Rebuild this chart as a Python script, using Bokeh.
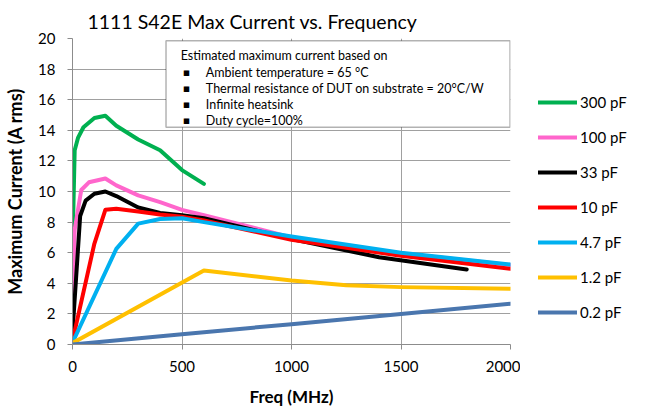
from bokeh.plotting import figure
from bokeh.layouts import row
from bokeh.models import Range1d, Legend, LegendItem, BoxAnnotation, Label, FixedTicker
from bokeh.embed import file_html
from bokeh.resources import INLINE

# ---- data ----
title_text = "1111 S42E Max Current vs. Frequency"
x_label = "Freq (MHz)"
y_label = "Maximum Current (A rms)"
x_ticks = [0, 500, 1000, 1500, 2000]
y_ticks = [0, 2, 4, 6, 8, 10, 12, 14, 16, 18, 20]

series_names = ["300 pF", "100 pF", "33 pF", "10 pF", "4.7 pF", "1.2 pF", "0.2 pF"]

f_300 = [1, 10, 25, 50, 100, 150, 200, 300, 400, 500, 600]
i_300 = [7.0, 12.7, 13.5, 14.2, 14.8, 14.95, 14.3, 13.4, 12.7, 11.4, 10.5]

f_100 = [1, 10, 40, 75, 150, 200, 300, 400, 500, 600, 1000, 1500, 2000]
i_100 = [3.3, 7.5, 10.1, 10.6, 10.85, 10.4, 9.75, 9.3, 8.8, 8.45, 7.0, 5.95, 5.2]

f_33 = [1, 35, 60, 100, 150, 200, 300, 400, 500, 600, 1000, 1400, 1800]
i_33 = [1.0, 8.4, 9.4, 9.85, 10.0, 9.7, 8.95, 8.6, 8.45, 8.25, 6.9, 5.7, 4.9]

f_10 = [1, 100, 150, 200, 300, 400, 500, 600, 1000, 1500, 2000]
i_10 = [0.3, 6.6, 8.8, 8.87, 8.7, 8.5, 8.35, 8.1, 6.85, 5.8, 4.95]

f_4p7 = [1, 200, 300, 400, 500, 600, 1000, 1500, 2000]
i_4p7 = [0.15, 6.25, 7.9, 8.2, 8.25, 8.0, 7.06, 6.0, 5.23]

f_1p2 = [1, 600, 1000, 1250, 1500, 2000]
i_1p2 = [0.1, 4.84, 4.18, 3.88, 3.75, 3.64]

f_0p2 = [0, 500, 1000, 1500, 2000]
i_0p2 = [0.0, 0.67, 1.33, 2.0, 2.66]

note_title = "Estimated maximum current based on"
note_items = [
    "Ambient temperature = 65 \u00b0C",
    "Thermal resistance of  DUT on substrate  = 20\u00b0C/W",
    "Infinite heatsink",
    "Duty cycle=100%",
]

# ---- styles ----
colors = ["#00B050", "#FF66CC", "#000000", "#FF0000", "#00B0F0", "#FFC000", "#4A76AE"]
FONT = "Lato"
MAIN_W, LEG_W, H = 520, 126, 409

p = figure(width=MAIN_W, height=H, output_backend="svg", toolbar_location=None,
           x_range=Range1d(0, 2000), y_range=Range1d(0, 20),
           min_border_left=72, min_border_right=10, min_border_top=38, min_border_bottom=65)

p.title.text = title_text
p.title.text_font = FONT
p.title.text_font_size = "19.5px"
p.title.text_font_style = "normal"
p.title.text_color = "#000000"
p.title.align = "left"
p.title.offset = 15
p.title.standoff = 12

p.outline_line_color = None
for g in (p.xgrid, p.ygrid):
    g.grid_line_color = "#A0A0A0"
    g.grid_line_width = 1

p.xaxis.ticker = FixedTicker(ticks=x_ticks)
p.yaxis.ticker = FixedTicker(ticks=y_ticks)
for ax in (p.xaxis, p.yaxis):
    ax.axis_line_color = "#8C8C8C"
    ax.major_tick_line_color = "#8C8C8C"
    ax.major_tick_in = 0
    ax.major_tick_out = 5
    ax.minor_tick_line_color = None
    ax.major_label_text_font = FONT
    ax.major_label_text_font_size = "15px"
    ax.major_label_text_color = "#000000"
    ax.axis_label_text_font = FONT
    ax.axis_label_text_font_style = "bold"
    ax.axis_label_text_color = "#000000"
p.xaxis.axis_label = x_label
p.yaxis.axis_label = y_label
p.xaxis.axis_label_text_font_size = "17px"
p.yaxis.axis_label_text_font_size = "18px"
p.xaxis.major_label_standoff = 11
p.yaxis.major_label_standoff = 12
p.xaxis.axis_label_standoff = 11
p.yaxis.axis_label_standoff = 9

xs = [f_300, f_100, f_33, f_10, f_4p7, f_1p2, f_0p2]
ys = [i_300, i_100, i_33, i_10, i_4p7, i_1p2, i_0p2]
for x, y, c in zip(xs, ys, colors):
    p.line(x, y, line_color=c, line_width=4, line_join="round", line_cap="round")

# ---- annotation box ----
box = BoxAnnotation(left=427, right=1998, bottom=14.2, top=19.85,
                    fill_color="white", fill_alpha=1.0, line_color="black", line_width=1.5)
p.add_layout(box)

note_y = [18.89, 17.8, 16.71, 15.69, 14.64]
p.add_layout(Label(x=494, y=note_y[0], text=note_title, text_font=FONT, text_font_size="12.5px",
                   text_baseline="middle", text_align="left", text_color="#000000"))
for t, yy in zip(note_items, note_y[1:]):
    p.add_layout(Label(x=503, y=yy, text="\u25aa", text_font="DejaVu Sans", text_font_size="11px",
                       text_baseline="middle", text_align="left", text_color="#000000"))
    p.add_layout(Label(x=609, y=yy, text=t, text_font=FONT, text_font_size="12.5px",
                       text_baseline="middle", text_align="left", text_color="#000000"))

# ---- legend panel (separate figure to the right; its ranges keep the copies out of view) ----
q = figure(width=LEG_W, height=H, output_backend="svg", toolbar_location=None,
           x_range=Range1d(0, 2000), y_range=Range1d(100, 120),
           min_border_left=0, min_border_right=0, min_border_top=0, min_border_bottom=0)
q.axis.visible = False
q.grid.visible = False
q.outline_line_color = None
items = []
for name, x, y, c in zip(series_names, xs, ys, colors):
    r = q.line(x, y, line_color=c, line_width=4, line_cap="round")
    items.append(LegendItem(label=name, renderers=[r]))
legend = Legend(items=items, location=(18, 22), orientation="vertical",
                border_line_color=None, background_fill_alpha=0,
                padding=0, margin=0, spacing=15,
                glyph_width=39, glyph_height=20, label_height=20, label_standoff=3,
                label_text_font=FONT, label_text_font_size="15px", label_text_color="#000000")
q.add_layout(legend, "center")

layout = row(p, q)
open("out.html", "w").write(file_html(layout, INLINE))
